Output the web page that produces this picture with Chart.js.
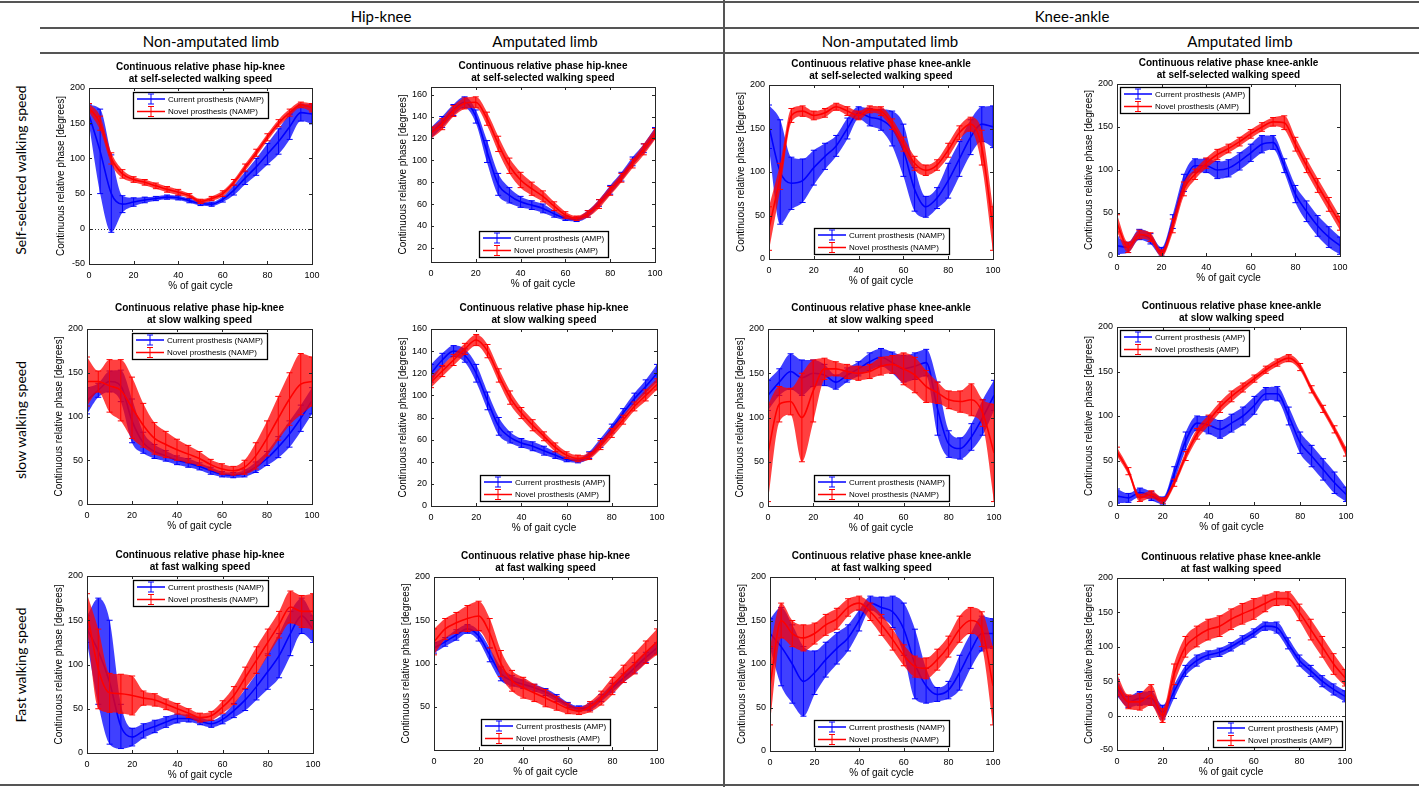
<!DOCTYPE html>
<html>
<head>
<meta charset="utf-8">
<script src="https://cdn.jsdelivr.net/npm/chart.js@4.4.1/dist/chart.umd.min.js"></script>
<style>
  body { margin: 0; background: #fff; }
  #wrap { position: relative; width: 1419px; height: 787px; overflow: hidden; background: #fff; }
  .hl { position: absolute; height: 2px; background: #555; }
  .vl { position: absolute; width: 2px; background: #555; }
  .hd { position: absolute; font: 15px Lato, "Open Sans", sans-serif; color: #000; transform: translate(-50%, -50%); white-space: nowrap; }
  .rl { position: absolute; font: 14px Lato, "Open Sans", sans-serif; color: #000; transform: translate(-50%, -50%) rotate(-90deg); white-space: nowrap; }
  canvas { position: absolute; }
</style>
</head>
<body>
<div id="wrap">
  <div class="hl" style="left:0;top:1px;width:1419px"></div>
  <div class="hl" style="left:40px;top:27px;width:1379px"></div>
  <div class="hl" style="left:40px;top:52px;width:1379px"></div>
  <div class="hl" style="left:0;top:784px;width:1419px"></div>
  <div class="vl" style="left:723px;top:0;height:787px"></div>

  <div class="hd" style="left:381px;top:16px">Hip-knee</div>
  <div class="hd" style="left:1072px;top:16px">Knee-ankle</div>
  <div class="hd" style="left:211px;top:41px">Non-amputated limb</div>
  <div class="hd" style="left:545px;top:41px">Amputated limb</div>
  <div class="hd" style="left:890px;top:41px">Non-amputated limb</div>
  <div class="hd" style="left:1240px;top:41px">Amputated limb</div>

  <div class="rl" style="left:20px;top:170px">Self-selected walking speed</div>
  <div class="rl" style="left:20px;top:420px">slow walking speed</div>
  <div class="rl" style="left:20px;top:665px">Fast walking speed</div>
</div>
<script>
// % of gait cycle where values were read
const gaitPct = [0, 5, 10, 15, 20, 25, 30, 35, 40, 45, 50, 55, 60, 65, 70, 75, 80, 85, 90, 95, 100];

// hip-knee, self-selected, non-amputated limb
const hkSelfNampCur   = [162, 110, 50, 35, 38, 41, 43, 45, 44, 40, 36, 35, 42, 55, 72, 88, 106, 124, 145, 165, 163];
const hkSelfNampCurSd = [14, 60, 55, 12, 6, 4, 3, 3, 3, 3, 3, 3, 4, 7, 9, 12, 15, 18, 18, 12, 14];
const hkSelfNampNov   = [172, 150, 100, 78, 70, 66, 61, 56, 52, 47, 39, 43, 50, 66, 87, 108, 130, 150, 165, 176, 172];
const hkSelfNampNovSd = [6, 10, 8, 6, 4, 4, 4, 4, 4, 3, 3, 3, 4, 4, 5, 5, 5, 5, 5, 4, 6];
// hip-knee, self-selected, amputated limb
const hkSelfAmpCur   = [125, 135, 146, 153, 140, 108, 78, 68, 62, 59, 56, 51, 47, 46, 51, 61, 73, 85, 99, 111, 125];
const hkSelfAmpCurSd = [5, 5, 5, 5, 6, 10, 10, 7, 5, 4, 4, 3, 2, 2, 3, 3, 4, 4, 4, 4, 5];
const hkSelfAmpNov   = [125, 133, 145, 152, 153, 138, 115, 95, 82, 74, 67, 58, 50, 47, 51, 60, 72, 84, 97, 110, 124];
const hkSelfAmpNovSd = [5, 5, 5, 5, 5, 6, 7, 7, 7, 6, 5, 4, 3, 2, 3, 4, 4, 4, 4, 5, 5];
// knee-ankle, self-selected, non-amputated limb
const kaSelfNampCur   = [152, 100, 87, 90, 105, 118, 130, 150, 168, 163, 160, 150, 125, 80, 60, 70, 90, 115, 140, 155, 152];
const kaSelfNampCurSd = [25, 60, 30, 25, 20, 15, 12, 12, 7, 10, 12, 20, 30, 25, 12, 12, 20, 20, 20, 20, 24];
const kaSelfNampNov   = [35, 95, 165, 170, 165, 168, 175, 170, 165, 172, 170, 155, 132, 110, 102, 108, 125, 145, 155, 128, 35];
const kaSelfNampNovSd = [25, 15, 8, 6, 5, 5, 4, 5, 5, 4, 5, 6, 8, 8, 6, 6, 8, 8, 8, 20, 25];
// knee-ankle, self-selected, amputated limb
const kaSelfAmpCur   = [12, 10, 25, 20, 5, 40, 85, 105, 105, 100, 102, 110, 120, 130, 132, 105, 72, 52, 35, 22, 12];
const kaSelfAmpCurSd = [10, 6, 6, 6, 5, 8, 10, 8, 8, 10, 10, 10, 10, 10, 8, 8, 10, 12, 12, 12, 10];
const kaSelfAmpNov   = [38, 10, 25, 22, 3, 35, 78, 95, 108, 118, 125, 133, 142, 150, 156, 155, 130, 105, 82, 60, 38];
const kaSelfAmpNovSd = [10, 6, 5, 5, 4, 8, 8, 6, 6, 6, 5, 5, 5, 5, 5, 8, 8, 8, 8, 8, 8];

// hip-knee, slow, non-amputated limb
const hkSlowNampCur   = [118, 130, 140, 135, 95, 70, 60, 55, 50, 47, 43, 38, 34, 33, 35, 42, 52, 65, 80, 98, 118];
const hkSlowNampCurSd = [15, 8, 12, 18, 25, 12, 8, 6, 5, 5, 4, 4, 3, 3, 4, 6, 8, 12, 15, 15, 15];
const hkSlowNampNov   = [140, 140, 135, 130, 110, 90, 75, 68, 62, 57, 52, 45, 40, 38, 42, 55, 75, 98, 120, 137, 140];
const hkSlowNampNovSd = [28, 12, 30, 35, 35, 25, 18, 15, 12, 10, 8, 6, 6, 5, 8, 15, 20, 25, 30, 35, 28];
// hip-knee, slow, amputated limb
const hkSlowAmpCur   = [120, 132, 140, 136, 120, 95, 72, 62, 57, 54, 50, 46, 42, 41, 46, 57, 70, 84, 97, 108, 120];
const hkSlowAmpCurSd = [8, 6, 5, 6, 8, 8, 8, 5, 4, 4, 4, 3, 2, 2, 3, 4, 4, 4, 5, 6, 8];
const hkSlowAmpNov   = [112, 122, 132, 142, 150, 140, 118, 98, 84, 73, 63, 53, 46, 43, 45, 55, 66, 78, 90, 100, 110];
const hkSlowAmpNovSd = [5, 5, 5, 5, 5, 6, 6, 6, 5, 5, 4, 4, 3, 3, 3, 4, 4, 4, 4, 5, 5];
// knee-ankle, slow, non-amputated limb
const kaSlowNampCur   = [125, 140, 152, 145, 150, 148, 140, 148, 155, 163, 168, 162, 155, 158, 162, 110, 70, 65, 78, 100, 125];
const kaSlowNampCurSd = [17, 15, 20, 20, 15, 12, 8, 8, 8, 10, 10, 12, 15, 15, 15, 30, 15, 12, 15, 20, 17];
const kaSlowNampNov   = [60, 115, 118, 100, 130, 155, 155, 152, 150, 152, 158, 160, 155, 148, 135, 128, 120, 118, 120, 105, 60];
const kaSlowNampNovSd = [55, 20, 15, 50, 35, 12, 8, 8, 8, 8, 10, 10, 18, 20, 18, 12, 10, 12, 18, 15, 55];
// knee-ankle, slow, amputated limb
const kaSlowAmpCur   = [10, 8, 14, 10, 5, 35, 72, 92, 90, 85, 92, 100, 112, 125, 125, 100, 70, 55, 40, 25, 12];
const kaSlowAmpCurSd = [8, 5, 5, 5, 4, 8, 10, 8, 10, 10, 10, 10, 10, 7, 8, 10, 12, 12, 12, 12, 8];
const kaSlowAmpNov   = [60, 38, 8, 12, 5, 25, 55, 80, 95, 110, 122, 132, 142, 152, 160, 165, 155, 130, 108, 85, 60];
const kaSlowAmpNovSd = [5, 4, 4, 4, 3, 4, 5, 6, 6, 6, 6, 5, 4, 4, 4, 4, 4, 4, 4, 4, 5];

// hip-knee, fast, non-amputated limb
const hkFastNampCur   = [140, 115, 80, 30, 18, 25, 30, 35, 39, 39, 36, 33, 38, 48, 60, 75, 92, 110, 135, 155, 140];
const hkFastNampCurSd = [15, 60, 70, 25, 10, 8, 7, 6, 5, 4, 4, 4, 5, 8, 12, 15, 20, 25, 25, 20, 15];
const hkFastNampNov   = [160, 95, 68, 67, 65, 62, 60, 55, 50, 45, 40, 42, 52, 65, 85, 105, 125, 145, 165, 160, 160];
const hkFastNampNovSd = [20, 45, 22, 22, 22, 8, 7, 6, 6, 5, 5, 5, 7, 10, 12, 15, 15, 15, 18, 18, 20];
// hip-knee, fast, amputated limb
const hkFastAmpCur   = [118, 125, 133, 140, 132, 110, 88, 80, 76, 72, 67, 60, 52, 48, 50, 60, 72, 83, 95, 107, 118];
const hkFastAmpCurSd = [6, 5, 6, 5, 6, 8, 8, 6, 5, 4, 4, 4, 3, 3, 4, 4, 5, 5, 6, 6, 6];
const hkFastAmpNov   = [125, 140, 147, 152, 155, 135, 100, 80, 72, 66, 60, 54, 48, 45, 50, 60, 74, 88, 100, 113, 125];
const hkFastAmpNovSd = [15, 12, 12, 15, 17, 17, 15, 12, 12, 10, 10, 8, 6, 4, 6, 8, 10, 10, 12, 13, 15];
// knee-ankle, fast, non-amputated limb
const kaFastNampCur   = [135, 120, 100, 80, 90, 105, 118, 130, 150, 170, 165, 160, 140, 100, 75, 65, 70, 90, 115, 135, 135];
const kaFastNampCurSd = [17, 45, 45, 40, 25, 20, 18, 15, 12, 8, 12, 18, 30, 40, 20, 8, 10, 20, 20, 20, 17];
const kaFastNampNov   = [75, 150, 135, 130, 135, 145, 152, 165, 170, 160, 145, 128, 110, 97, 95, 105, 120, 140, 150, 140, 75];
const kaFastNampNovSd = [45, 20, 15, 15, 12, 12, 12, 10, 8, 10, 12, 12, 12, 12, 12, 12, 12, 15, 15, 20, 45];
// knee-ankle, fast, amputated limb
const kaFastAmpCur   = [40, 20, 25, 25, 5, 35, 65, 80, 88, 92, 100, 110, 120, 130, 128, 105, 80, 65, 50, 38, 28];
const kaFastAmpCurSd = [12, 8, 10, 10, 10, 10, 8, 8, 6, 6, 6, 6, 6, 6, 8, 8, 8, 8, 8, 8, 8];
const kaFastAmpNov   = [45, 20, 20, 30, 0, 60, 100, 115, 125, 130, 140, 148, 155, 163, 170, 170, 150, 125, 100, 75, 55];
const kaFastAmpNovSd = [15, 10, 12, 15, 10, 15, 15, 15, 15, 15, 15, 15, 15, 12, 10, 10, 12, 15, 15, 15, 12];

const BLUE = '#0000ff';
const RED = '#ff0000';
const FONT = '"Liberation Sans", Arial, Helvetica, sans-serif';

// rect = plot box [left, top, right, bottom] on the page
const panels = [
  { rect: [89, 88, 312, 264],   joint: 'hip-knee',   speed: 'self-selected', limb: 'NAMP', y: [-50, 200, 50], leg: 'nc', zero: true,
    cur: hkSelfNampCur, curSd: hkSelfNampCurSd, nov: hkSelfNampNov, novSd: hkSelfNampNovSd },
  { rect: [431, 87, 655, 262],  joint: 'hip-knee',   speed: 'self-selected', limb: 'AMP',  y: [7, 167, 20], leg: 'sc',
    cur: hkSelfAmpCur, curSd: hkSelfAmpCurSd, nov: hkSelfAmpNov, novSd: hkSelfAmpNovSd },
  { rect: [769, 85, 993, 259],  joint: 'knee-ankle', speed: 'self-selected', limb: 'NAMP', y: [0, 200, 50], leg: 'sc',
    cur: kaSelfNampCur, curSd: kaSelfNampCurSd, nov: kaSelfNampNov, novSd: kaSelfNampNovSd },
  { rect: [1117, 84, 1340, 256], joint: 'knee-ankle', speed: 'self-selected', limb: 'AMP', y: [0, 200, 50], leg: 'nw',
    cur: kaSelfAmpCur, curSd: kaSelfAmpCurSd, nov: kaSelfAmpNov, novSd: kaSelfAmpNovSd },

  { rect: [87, 329, 312, 504],  joint: 'hip-knee',   speed: 'slow', limb: 'NAMP', y: [0, 200, 50], leg: 'nc',
    cur: hkSlowNampCur, curSd: hkSlowNampCurSd, nov: hkSlowNampNov, novSd: hkSlowNampNovSd },
  { rect: [431, 329, 657, 506], joint: 'hip-knee',   speed: 'slow', limb: 'AMP',  y: [0, 160, 20], leg: 'sc',
    cur: hkSlowAmpCur, curSd: hkSlowAmpCurSd, nov: hkSlowAmpNov, novSd: hkSlowAmpNovSd },
  { rect: [768, 329, 994, 506], joint: 'knee-ankle', speed: 'slow', limb: 'NAMP', y: [0, 200, 50], leg: 'sc',
    cur: kaSlowNampCur, curSd: kaSlowNampCurSd, nov: kaSlowNampNov, novSd: kaSlowNampNovSd },
  { rect: [1117, 327, 1346, 505], joint: 'knee-ankle', speed: 'slow', limb: 'AMP', y: [0, 200, 50], leg: 'nw',
    cur: kaSlowAmpCur, curSd: kaSlowAmpCurSd, nov: kaSlowAmpNov, novSd: kaSlowAmpNovSd },

  { rect: [87, 576, 313, 753],  joint: 'hip-knee',   speed: 'fast', limb: 'NAMP', y: [0, 200, 50], leg: 'nc',
    cur: hkFastNampCur, curSd: hkFastNampCurSd, nov: hkFastNampNov, novSd: hkFastNampNovSd },
  { rect: [434, 577, 657, 750], joint: 'hip-knee',   speed: 'fast', limb: 'AMP',  y: [0, 200, 50], leg: 'sc', noZeroLabel: true,
    cur: hkFastAmpCur, curSd: hkFastAmpCurSd, nov: hkFastAmpNov, novSd: hkFastAmpNovSd },
  { rect: [770, 577, 993, 751], joint: 'knee-ankle', speed: 'fast', limb: 'NAMP', y: [0, 200, 50], leg: 'sc',
    cur: kaFastNampCur, curSd: kaFastNampCurSd, nov: kaFastNampNov, novSd: kaFastNampNovSd },
  { rect: [1117, 578, 1345, 750], joint: 'knee-ankle', speed: 'fast', limb: 'AMP', y: [-50, 200, 50], leg: 'se', zero: true,
    cur: kaFastAmpCur, curSd: kaFastAmpCurSd, nov: kaFastAmpNov, novSd: kaFastAmpNovSd },
];

// error bars on every point of a mean line
const errorBars = {
  id: 'errorBars',
  afterDatasetDraw(chart, args) {
    const ds = chart.data.datasets[args.index];
    if (!ds.errSd) return;
    const { ctx, chartArea: a } = chart;
    const ys = chart.scales.y;
    ctx.save();
    ctx.beginPath();
    ctx.rect(a.left, a.top, a.width, a.height);
    ctx.clip();
    ctx.strokeStyle = ds.borderColor;
    ctx.lineWidth = 1;
    ctx.beginPath();
    args.meta.data.forEach((pt, i) => {
      const v = ds.data[i].y, s = ds.errSd[i];
      const t = ys.getPixelForValue(v + s), b = ys.getPixelForValue(v - s);
      ctx.moveTo(pt.x, t); ctx.lineTo(pt.x, b);
      ctx.moveTo(pt.x - 3, t); ctx.lineTo(pt.x + 3, t);
      ctx.moveTo(pt.x - 3, b); ctx.lineTo(pt.x + 3, b);
    });
    ctx.stroke();
    ctx.restore();
  }
};

// matlab style box, inward ticks, dotted zero line
const matlabAxes = {
  id: 'matlabAxes',
  beforeDatasetsDraw(chart, args, o) {
    if (!o.zero) return;
    const { ctx, chartArea: a } = chart;
    const y0 = Math.round(chart.scales.y.getPixelForValue(0)) + 0.5;
    ctx.save();
    ctx.strokeStyle = '#000';
    ctx.lineWidth = 0.8;
    ctx.setLineDash([1, 2]);
    ctx.beginPath();
    ctx.moveTo(a.left, y0); ctx.lineTo(a.right, y0);
    ctx.stroke();
    ctx.restore();
  },
  afterDatasetsDraw(chart) {
    const { ctx, chartArea: a, scales } = chart;
    ctx.save();
    ctx.strokeStyle = '#262626';
    ctx.lineWidth = 1;
    ctx.strokeRect(Math.round(a.left) + 0.5, Math.round(a.top) + 0.5, Math.round(a.width), Math.round(a.height));
    ctx.beginPath();
    scales.x.ticks.forEach(t => {
      const x = Math.round(scales.x.getPixelForValue(t.value)) + 0.5;
      ctx.moveTo(x, a.bottom); ctx.lineTo(x, a.bottom - 3);
      ctx.moveTo(x, a.top); ctx.lineTo(x, a.top + 3);
    });
    scales.y.ticks.forEach(t => {
      const y = Math.round(scales.y.getPixelForValue(t.value)) + 0.5;
      ctx.moveTo(a.left, y); ctx.lineTo(a.left + 3, y);
      ctx.moveTo(a.right, y); ctx.lineTo(a.right - 3, y);
    });
    ctx.stroke();
    ctx.restore();
  }
};

// two line bold title centred over the axes
const panelTitle = {
  id: 'panelTitle',
  afterDraw(chart, args, o) {
    if (!o.lines) return;
    const { ctx, chartArea: a } = chart;
    const cx = (a.left + a.right) / 2;
    ctx.save();
    ctx.fillStyle = '#000';
    ctx.font = 'bold 10px ' + FONT;
    ctx.textAlign = 'center';
    ctx.textBaseline = 'middle';
    ctx.fillText(o.lines[0], cx, a.top - 21);
    ctx.fillText(o.lines[1], cx, a.top - 8.5);
    ctx.restore();
  }
};

// legend box inside the axes
const boxLegend = {
  id: 'boxLegend',
  afterDraw(chart, args, o) {
    if (!o.items) return;
    const { ctx, chartArea: a } = chart;
    ctx.save();
    ctx.font = '8px ' + FONT;
    const tw = Math.max(...o.items.map(it => ctx.measureText(it.text).width));
    const w = Math.round(36 + tw + 3), h = 26;
    let x, y;
    if (o.pos === 'nc') { x = (a.left + a.right - w) / 2; y = a.top + 4; }
    else if (o.pos === 'sc') { x = (a.left + a.right - w) / 2; y = a.bottom - 5 - h; }
    else if (o.pos === 'nw') { x = a.left + 3; y = a.top + 3; }
    else { x = a.right - 3 - w; y = a.bottom - 3 - h; }
    x = Math.round(x); y = Math.round(y);
    ctx.fillStyle = '#fff';
    ctx.fillRect(x, y, w, h);
    ctx.strokeStyle = '#000';
    ctx.lineWidth = 1.3;
    ctx.strokeRect(x + 0.5, y + 0.5, w, h);
    o.items.forEach((it, i) => {
      const cy = y + 7 + i * 12.5;
      ctx.strokeStyle = it.color;
      ctx.lineWidth = 1.5;
      ctx.beginPath();
      ctx.moveTo(x + 4, cy); ctx.lineTo(x + 32, cy);
      ctx.stroke();
      ctx.lineWidth = 1;
      ctx.beginPath();
      ctx.moveTo(x + 18, cy - 5); ctx.lineTo(x + 18, cy + 5);
      ctx.moveTo(x + 15, cy - 5); ctx.lineTo(x + 21, cy - 5);
      ctx.moveTo(x + 15, cy + 5); ctx.lineTo(x + 21, cy + 5);
      ctx.stroke();
      ctx.fillStyle = '#000';
      ctx.textAlign = 'left';
      ctx.textBaseline = 'middle';
      ctx.fillText(it.text, x + 35, cy + 0.5);
    });
    ctx.restore();
  }
};

Chart.register(errorBars, matlabAxes, panelTitle, boxLegend);
Chart.defaults.font.family = FONT;
Chart.defaults.color = '#000';

function pts(vals) {
  return gaitPct.map((x, i) => ({ x: x, y: vals[i] }));
}

function series(label, color, band, mean, sd) {
  const up = gaitPct.map((x, i) => ({ x: x, y: mean[i] + sd[i] }));
  const lo = gaitPct.map((x, i) => ({ x: x, y: mean[i] - sd[i] }));
  const common = { pointRadius: 0, cubicInterpolationMode: 'monotone' };
  return [
    { ...common, label: label, data: pts(mean), borderColor: color, borderWidth: 1.6, fill: false, errSd: sd },
    { ...common, data: up, borderWidth: 0, borderColor: band, backgroundColor: band, fill: '+1' },
    { ...common, data: lo, borderWidth: 0, borderColor: band, fill: false },
  ];
}

const wrap = document.getElementById('wrap');
panels.forEach(p => {
  const [l, t, r, b] = p.rect;
  const W = r - l + 50 + 14, H = b - t + 38 + 34;
  const cv = document.createElement('canvas');
  cv.width = W; cv.height = H;
  cv.style.left = (l - 50) + 'px';
  cv.style.top = (t - 38) + 'px';
  cv.style.width = W + 'px';
  cv.style.height = H + 'px';
  wrap.appendChild(cv);

  const curLabel = 'Current prosthesis (' + p.limb + ')';
  const novLabel = 'Novel prosthesis (' + p.limb + ')';
  const [yMin, yMax, yStep] = p.y;

  new Chart(cv, {
    type: 'line',
    data: {
      datasets: [
        ...series(novLabel, RED, 'rgba(255,0,0,0.75)', p.nov, p.novSd),
        ...series(curLabel, BLUE, 'rgba(0,0,255,0.75)', p.cur, p.curSd),
      ]
    },
    options: {
      responsive: false,
      animation: false,
      devicePixelRatio: 1,
      events: [],
      layout: { padding: { top: 38, right: 14, left: 0, bottom: 0 } },
      plugins: {
        legend: { display: false },
        tooltip: { enabled: false },
        title: { display: false },
        matlabAxes: { zero: !!p.zero },
        panelTitle: { lines: ['Continuous relative phase ' + p.joint, 'at ' + p.speed + ' walking speed'] },
        boxLegend: { pos: p.leg, items: [{ text: curLabel, color: BLUE }, { text: novLabel, color: RED }] },
      },
      scales: {
        x: {
          type: 'linear', min: 0, max: 100,
          grid: { display: false, drawTicks: false },
          border: { display: false },
          ticks: { stepSize: 20, padding: 6, color: '#000', font: { size: 9 }, maxRotation: 0 },
          title: { display: true, text: '% of gait cycle', color: '#000', font: { size: 10 }, padding: { top: 0, bottom: 6 } },
          afterFit(s) { s.height = 34; }
        },
        y: {
          type: 'linear', min: yMin, max: yMax,
          grid: { display: false, drawTicks: false },
          border: { display: false },
          ticks: {
            stepSize: yStep, padding: 4, color: '#000', font: { size: 9 },
            callback: v => (p.noZeroLabel && v === 0) ? '' : v
          },
          afterBuildTicks(s) {
            const list = [];
            for (let v = Math.ceil(yMin / yStep) * yStep; v <= yMax; v += yStep) list.push({ value: v });
            s.ticks = list;
          },
          title: { display: true, text: 'Continuous relative phase [degrees]', color: '#000', font: { size: 10 }, padding: { top: 16, bottom: 0 } },
          afterFit(s) { s.width = 50; }
        }
      }
    }
  });
});
</script>
</body>
</html>
